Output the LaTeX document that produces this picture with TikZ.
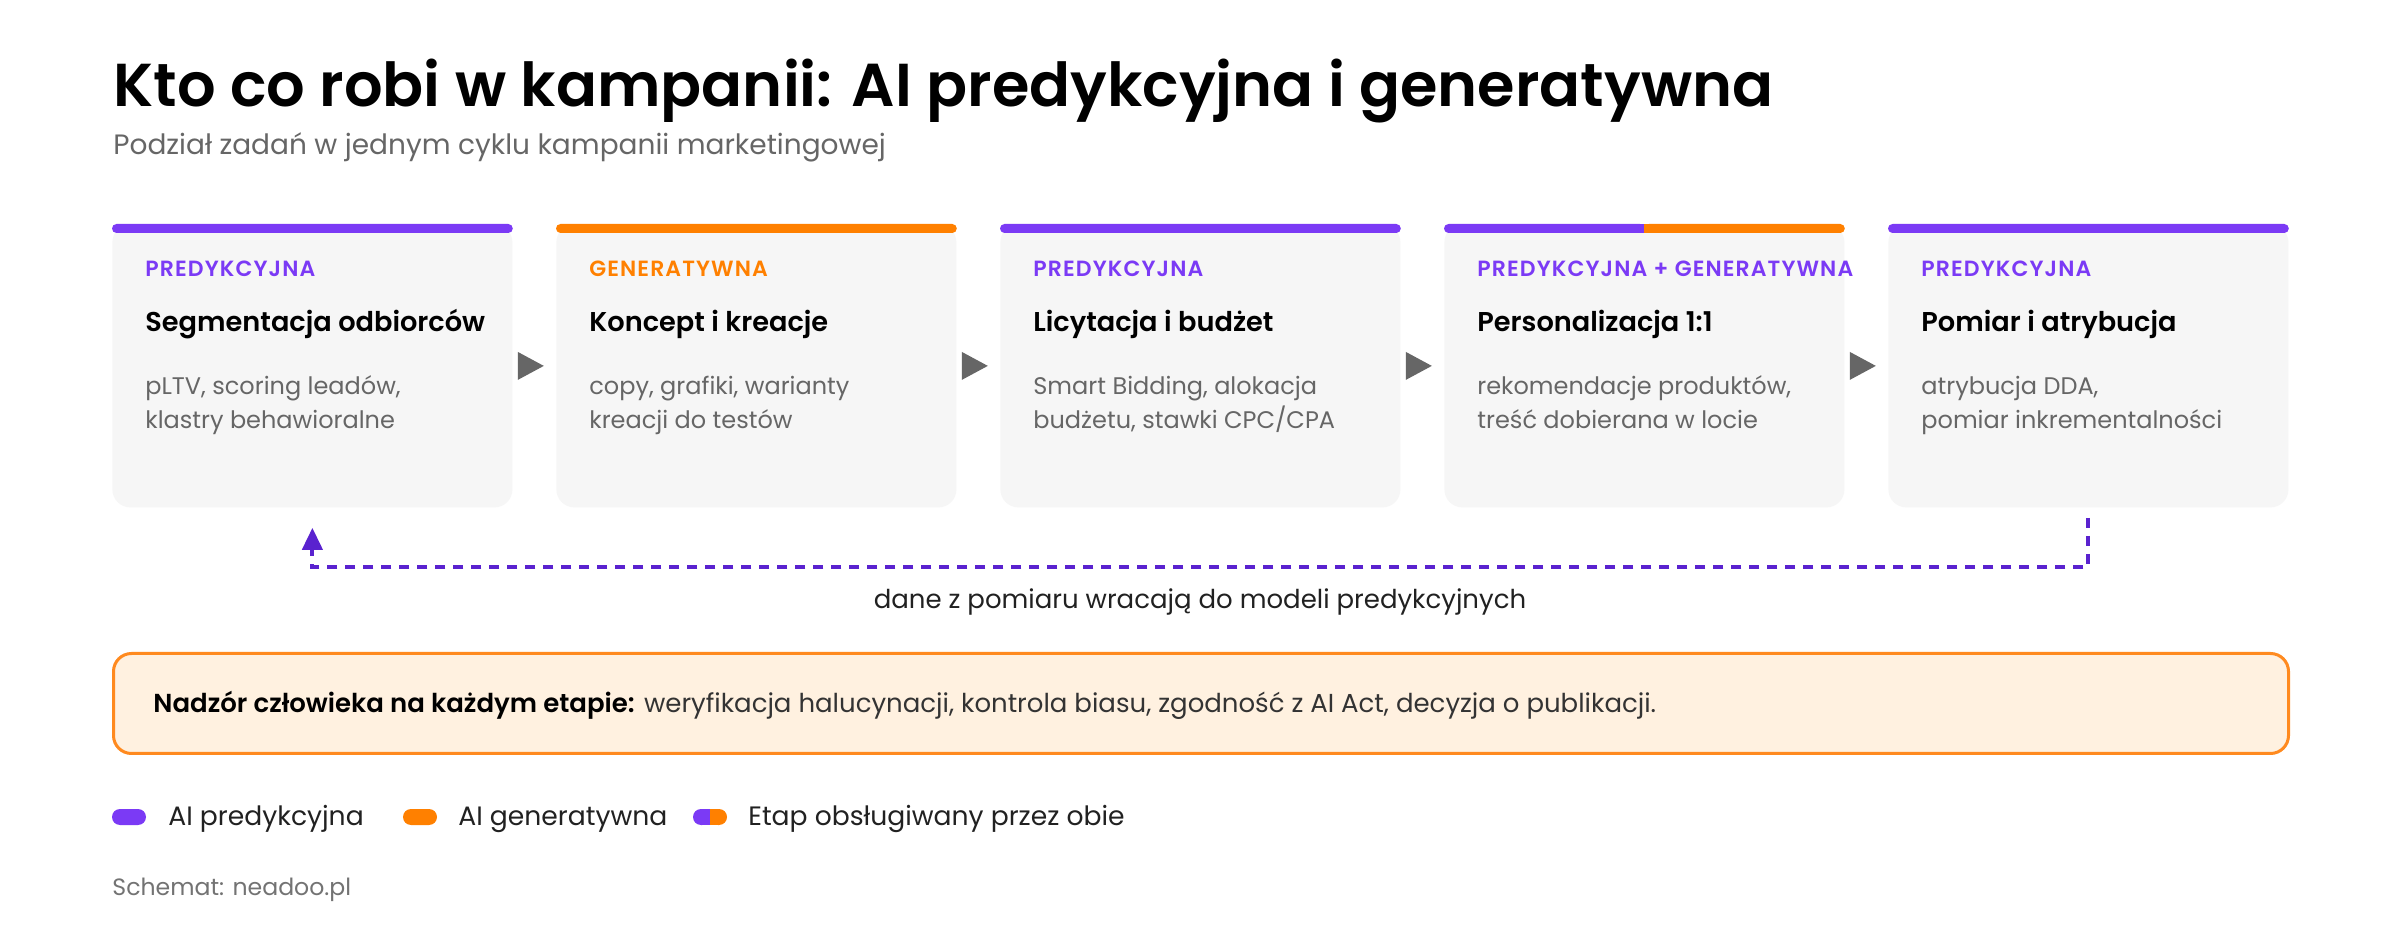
\documentclass[tikz,border=0pt]{standalone}
\usepackage{fontspec}
\usetikzlibrary{calc,arrows.meta}
\setmainfont{Poppins}
\IfFontExistsTF{Poppins SemiBold}{\newfontfamily\semib{Poppins SemiBold}}{\newcommand\semib{\bfseries}}
\definecolor{purp}{HTML}{7B3AF5}
\definecolor{orng}{HTML}{FF8000}
\definecolor{dashp}{HTML}{5A22CF}
\definecolor{cardg}{HTML}{F6F6F6}
\definecolor{arrg}{HTML}{666666}
\definecolor{descg}{HTML}{666666}
\definecolor{boxf}{HTML}{FFF1E0}
\definecolor{boxd}{HTML}{FF8A1F}
\newcommand\stagecard[7]{%
  \node[card] (#1) at (#2,224) {};
  \node[lbl, text=#4] (#1l) at (#2+33,277) {#3};
  \node[hd] (#1h) at (#2+33,332) {#5};
  \node[ds] (#1a) at (#2+33,395) {#6};
  \node[ds] (#1b) at (#2+33,429) {#7};
}
\newcommand\topbar[2]{%
  \fill[#2, rounded corners=2.25pt] (#1.north west) rectangle ([yshift=-4.5pt]#1.north east);
}
\newcommand\steptri[1]{%
  \fill[arrg] ($(#1.east)+(5,-14)$) -- ($(#1.east)+(5,14)$) -- ($(#1.east)+(31,0)$) -- cycle;
}
\begin{document}
\begin{tikzpicture}[x=0.5pt,y=-0.5pt,
  card/.style={fill=cardg, rounded corners=9pt, minimum width=200pt, minimum height=141.5pt, inner sep=0pt, anchor=north west},
  lbl/.style={anchor=base west, inner sep=0pt, font=\semib\fontsize{11}{13}\selectfont\addfontfeatures{LetterSpace=5}},
  hd/.style={anchor=base west, inner sep=0pt, font=\semib\fontsize{13.6}{16}\selectfont, text=black},
  ds/.style={anchor=base west, inner sep=0pt, font=\fontsize{12}{14}\selectfont, text=descg},
  txt/.style={anchor=base west, inner sep=0pt},
  fb/.style={draw=dashp, line width=2pt, dash pattern=on 5pt off 4pt, -{Triangle[width=10pt,length=11pt]}}
]
\useasboundingbox (0,0) rectangle (2400,940);
\fill[white] (0,0) rectangle (2400,940);

\node[txt, font=\semib\fontsize{30.3}{36}\selectfont] (title) at (113,107) {Kto co robi w kampanii: AI predykcyjna i generatywna};
\node[txt, font=\fontsize{14}{16}\selectfont, text=descg] (subtitle) at (113,155) {Podział zadań w jednym cyklu kampanii marketingowej};

\stagecard{c1}{112}{PREDYKCYJNA}{purp}{Segmentacja odbiorców}{pLTV, scoring leadów,}{klastry behawioralne}
\stagecard{c2}{556}{GENERATYWNA}{orng}{Koncept i kreacje}{copy, grafiki, warianty}{kreacji do testów}
\stagecard{c3}{1000}{PREDYKCYJNA}{purp}{Licytacja i budżet}{Smart Bidding, alokacja}{budżetu, stawki CPC/CPA}
\stagecard{c4}{1444}{PREDYKCYJNA + GENERATYWNA}{purp}{Personalizacja 1:1}{rekomendacje produktów,}{treść dobierana w locie}
\stagecard{c5}{1888}{PREDYKCYJNA}{purp}{Pomiar i atrybucja}{atrybucja DDA,}{pomiar inkrementalności}

\topbar{c1}{purp}
\topbar{c2}{orng}
\topbar{c3}{purp}
\topbar{c5}{purp}
% split bar
\fill[purp, rounded corners=2.25pt] (c4.north west) rectangle ([yshift=-4.5pt]c4.north);
\fill[purp] ([xshift=5pt]c4.north west) rectangle ([yshift=-4.5pt]c4.north);
\fill[orng, rounded corners=2.25pt] (c4.north) rectangle ([yshift=-4.5pt]c4.north east);
\fill[orng] (c4.north) rectangle ([xshift=-5pt,yshift=-4.5pt]c4.north east);

\steptri{c1}
\steptri{c2}
\steptri{c3}
\steptri{c4}

% feedback loop
\coordinate (fbs) at ([yshift=-5pt]c5.south);
\coordinate (fbe) at ([yshift=-10pt]c1.south);
\draw[fb] (fbs) -- ([yshift=-29.5pt]c5.south) -| (fbe);
\node[anchor=base, inner sep=0pt, font=\fontsize{13}{15}\selectfont, text=black!87] (fbl) at (1200,609) {dane z pomiaru wracają do modeli predykcyjnych};

% human oversight box
\node[draw=boxd, fill=boxf, line width=1.5pt, rounded corners=9pt, minimum width=1087.5pt, minimum height=50pt, inner sep=0pt, anchor=north west] (hb) at (112,652) {};
\node[txt, font=\fontsize{13}{15}\selectfont, text=black!80] (hbt) at (153,713) {{\semib\color{black}Nadzór człowieka na każdym etapie:} weryfikacja halucynacji, kontrola biasu, zgodność z AI Act, decyzja o publikacji.};

% legend
\fill[purp, rounded corners=4pt] (112,809) rectangle (146,825);
\node[txt, font=\fontsize{13.3}{15}\selectfont, text=black!87] (lg1) at (168,826) {AI predykcyjna};
\fill[orng, rounded corners=4pt] (403,809) rectangle (437,825);
\node[txt, font=\fontsize{13.3}{15}\selectfont, text=black!87] (lg2) at (458,826) {AI generatywna};
\fill[purp, rounded corners=4pt] (693,809) rectangle (710,825);
\fill[purp] (703,809) rectangle (710,825);
\fill[orng, rounded corners=4pt] (710,809) rectangle (727,825);
\fill[orng] (710,809) rectangle (717,825);
\node[txt, font=\fontsize{13.3}{15}\selectfont, text=black!87] (lg3) at (748,826) {Etap obsługiwany przez obie};

\node[txt, font=\fontsize{11.8}{14}\selectfont, text=black!55] (src) at (112,895) {Schemat: neadoo.pl};
\end{tikzpicture}
\end{document}
